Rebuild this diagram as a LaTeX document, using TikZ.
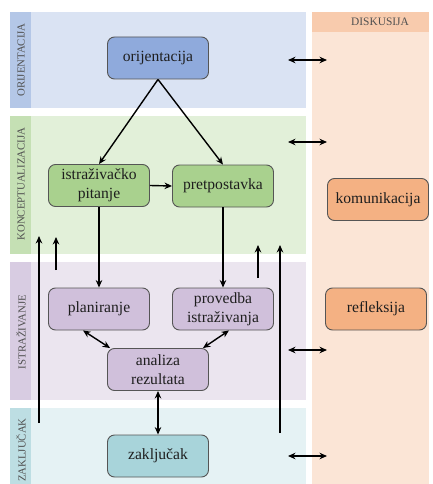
\documentclass[tikz,border=0pt]{standalone}
\usepackage{fontspec}
\setmainfont{Liberation Serif}
\usetikzlibrary{arrows.meta}
\definecolor{blueband}{HTML}{DAE3F3}
\definecolor{bluestrip}{HTML}{B4C7E7}
\definecolor{greenband}{HTML}{E2F0D9}
\definecolor{greenstrip}{HTML}{C5E0B4}
\definecolor{purpleband}{HTML}{EBE5EF}
\definecolor{purplestrip}{HTML}{D8CCE2}
\definecolor{tealband}{HTML}{E5F2F4}
\definecolor{tealstrip}{HTML}{BDDEE3}
\definecolor{orangeband}{HTML}{FBE5D6}
\definecolor{orangehead}{HTML}{F8CBAD}
\definecolor{bluenode}{HTML}{8FAADC}
\definecolor{greennode}{HTML}{A9D18E}
\definecolor{purplenode}{HTML}{D0C0DB}
\definecolor{tealnode}{HTML}{A8D4DA}
\definecolor{orangenode}{HTML}{F4B183}
\definecolor{txt}{HTML}{1E1E1E}
\definecolor{lbl}{HTML}{505050}
\definecolor{bord}{HTML}{555555}
\tikzset{
  box/.style={draw=bord, line width=0.9pt, rounded corners=7pt, minimum width=101pt, minimum height=42pt, inner sep=0pt, align=center, text=txt, font=\fontsize{15.6}{19}\selectfont},
  sidelabel/.style={rotate=90, text=lbl, font=\fontsize{10.8}{12}\selectfont, inner sep=0pt},
  arr/.style={line width=1.4pt, -{Stealth[length=7.5pt,width=6.5pt]}},
  darr/.style={line width=1.4pt, {Stealth[length=7.5pt,width=6.5pt]}-{Stealth[length=7.5pt,width=6.5pt]}},
  plain/.style={line width=1.4pt}
}
\begin{document}
\begin{tikzpicture}[x=1pt,y=-1pt]
\useasboundingbox (0,0) rectangle (433,484);
% bands
\fill[blueband] (10,12) rectangle (306,108);
\fill[bluestrip] (10,12) rectangle (31,108);
\fill[greenband] (10,116) rectangle (306,254);
\fill[greenstrip] (10,116) rectangle (31,254);
\fill[purpleband] (10,262) rectangle (306,400);
\fill[purplestrip] (10,262) rectangle (31,400);
\fill[tealband] (10,408) rectangle (306,484);
\fill[tealstrip] (10,408) rectangle (31,484);
\fill[orangeband] (312,12) rectangle (429,484);
\fill[orangehead] (312,12) rectangle (429,32);
% labels
\node[sidelabel] (lo) at (21,60) {ORIJENTACIJA};
\node[sidelabel] (lk) at (21,184) {KONCEPTUALIZACIJA};
\node[sidelabel] (li) at (21,332) {ISTRAŽIVANJE};
\node[sidelabel] (lz) at (21,450) {ZAKLJUČAK};
\node[text=lbl, font=\fontsize{11.4}{13}\selectfont, inner sep=0pt] (ld) at (380,22) {DISKUSIJA};
% nodes
\node[box, fill=bluenode] (or) at (158,58) {orijentacija};
\node[box, fill=greennode] (ip) at (99,185.5) {istraživačko\\pitanje};
\node[box, fill=greennode] (pp) at (223,186) {pretpostavka};
\node[box, fill=purplenode] (pl) at (99,309) {planiranje};
\node[box, fill=purplenode] (pr) at (223,309) {provedba\\istraživanja};
\node[box, fill=purplenode] (an) at (158,369.5) {analiza\\rezultata};
\node[box, fill=tealnode] (za) at (158,456) {zaključak};
\node[box, fill=orangenode] (ko) at (378,199.5) {komunikacija};
\node[box, fill=orangenode] (re) at (376,309) {refleksija};
% connectors
\draw[arr] (or.south) -- (ip.north);
\draw[arr] (or.south) -- (pp.north);
\draw[arr] (ip.east) -- (pp.west);
\draw[arr] (ip.south) -- (pl.north);
\draw[arr] (pp.south) -- (pr.north);
\draw[darr] ([xshift=-16pt]pl.south) -- ([xshift=3pt]an.north west);
\draw[darr] ([xshift=6pt]pr.south) -- ([xshift=-6pt]an.north east);
\draw[darr] (an.south) -- (za.north);
% feedback arrows
\coordinate (a1s) at (39,423); \coordinate (a1e) at (39,236);
\coordinate (a2s) at (56,270); \coordinate (a2e) at (56,237);
\coordinate (a3s) at (258,278); \coordinate (a3e) at (258,245);
\coordinate (a4s) at (280,433); \coordinate (a4e) at (280,245);
\draw[arr] (a1s) -- (a1e);
\draw[arr] (a2s) -- (a2e);
\draw[arr] (a3s) -- (a3e);
\draw[arr] (a4s) -- (a4e);
% discussion arrows
\foreach \y/\n in {60/d1,142/d2,350/d3,456/d4}{
  \coordinate (\n l) at (288,\y);
  \coordinate (\n r) at (327,\y);
  \draw[darr] (\n l) -- (\n r);
}
\end{tikzpicture}
\end{document}
